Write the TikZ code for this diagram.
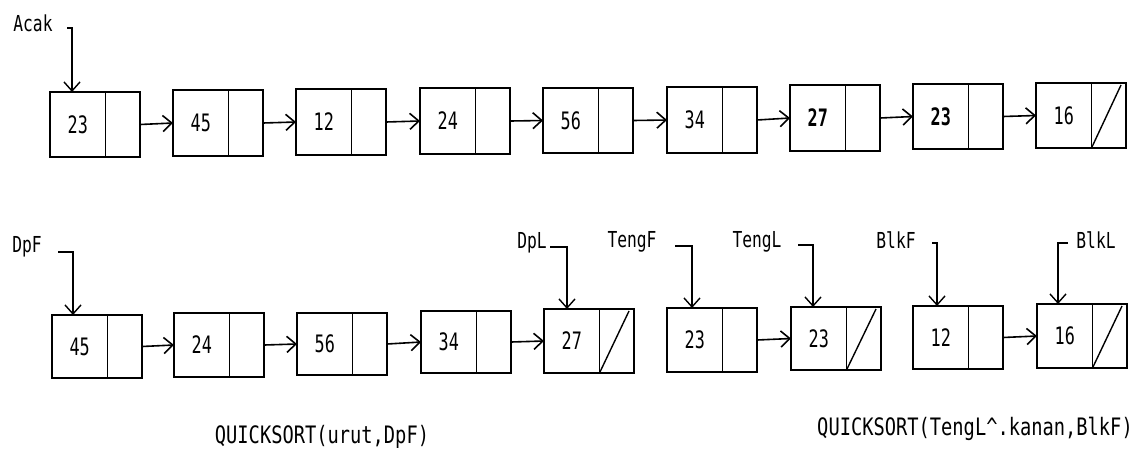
\documentclass[tikz,border=0pt]{standalone}
\usepackage{fontspec}
\newfontfamily\numfont[FakeStretch=0.7]{DejaVu Sans Mono}
\newfontfamily\lblfont[FakeStretch=0.74]{DejaVu Sans Mono}
\newfontfamily\capfont[FakeStretch=0.78]{DejaVu Sans Mono}
\usetikzlibrary{arrows.meta}
\newcommand\mkcell[5]{% name, x, y, height, value
  \node[cellbox, minimum height=#4pt] (#1) at (#2,#3) {};
  \draw[cellline] ([xshift=55.5pt]#1.north west) -- ([xshift=55.5pt]#1.south west);
  \node[valtext] (#1v) at ([xshift=27.75pt]#1.west) {#5};
}
\newcommand\mknull[1]{%
  \draw[cellline] ([xshift=55.5pt]#1.south west) -- ([xshift=-5pt,yshift=-2pt]#1.north east);
}
\begin{document}
\begin{tikzpicture}[x=1pt,y=-1pt,
  cellbox/.style={draw, line width=1.4pt, minimum width=90pt, inner sep=0pt, outer sep=0pt, anchor=north west},
  cellline/.style={line width=1.4pt},
  valtext/.style={font=\numfont\fontsize{24}{24}\selectfont, inner sep=0pt},
  lbl/.style={font=\lblfont\fontsize{22}{22}\selectfont, inner sep=0pt},
  captext/.style={font=\capfont\fontsize{24}{24}\selectfont, inner sep=0pt},
  link/.style={line width=1.6pt, -{Straight Barb[length=9pt,width=16pt,line width=1.6pt]}},
  ptr/.style={line width=1.4pt, -{Straight Barb[length=9pt,width=16pt,line width=1.4pt]}}
]
\useasboundingbox (0,0) rectangle (1137,451);
% top row
\mkcell{a1}{50}{92}{65}{23}
\mkcell{a2}{173}{90}{66}{45}
\mkcell{a3}{296}{89}{66}{12}
\mkcell{a4}{420}{88}{66}{24}
\mkcell{a5}{543}{88}{65}{56}
\mkcell{a6}{667}{87}{66}{34}
\mkcell{a7}{790}{85}{66}{\textbf{27}}
\mkcell{a8}{913}{84}{65}{\textbf{23}}
\mkcell{a9}{1036}{83}{65}{16}
\mknull{a9}
\foreach \i/\j in {a1/a2,a2/a3,a3/a4,a4/a5,a5/a6,a6/a7,a7/a8,a8/a9}
  \draw[link] (\i.east) -- (\j.west);
% bottom row
\mkcell{b1}{52}{315}{63}{45}
\mkcell{b2}{174}{313}{64}{24}
\mkcell{b3}{297}{313}{62}{56}
\mkcell{b4}{421}{311}{62}{34}
\mkcell{b5}{544}{309}{64}{27}
\mkcell{b6}{667}{308}{64}{23}
\mkcell{b7}{791}{307}{63}{23}
\mkcell{b8}{913}{306}{63}{12}
\mkcell{b9}{1037}{304}{64}{16}
\mknull{b5}
\mknull{b7}
\mknull{b9}
\foreach \i/\j in {b1/b2,b2/b3,b3/b4,b4/b5,b6/b7,b8/b9}
  \draw[link] (\i.east) -- (\j.west);
% pointer labels
\node[lbl] (lAcak) at (33,23) {Acak};
\coordinate (cAcak) at (67,28);
\draw[ptr] (cAcak) -| ([xshift=22pt]a1.north west);
\node[lbl] (lDpF) at (27,247) {DpF};
\coordinate (cDpF) at (58,252);
\draw[ptr] (cDpF) -| ([xshift=21pt]b1.north west);
\node[lbl] (lDpL) at (532,243) {DpL};
\coordinate (cDpL) at (550,247);
\draw[ptr] (cDpL) -| ([xshift=23pt]b5.north west);
\node[lbl] (lTengF) at (632,242) {TengF};
\coordinate (cTengF) at (675,246);
\draw[ptr] (cTengF) -| ([xshift=25pt]b6.north west);
\node[lbl] (lTengL) at (757,242) {TengL};
\coordinate (cTengL) at (798,245);
\draw[ptr] (cTengL) -| ([xshift=22pt]b7.north west);
\node[lbl] (lBlkF) at (896,240) {BlkF};
\coordinate (cBlkF) at (932,243);
\draw[ptr] (cBlkF) -| ([xshift=24pt]b8.north west);
\node[lbl] (lBlkL) at (1096,240) {BlkL};
\coordinate (cBlkL) at (1068,243);
\draw[ptr] (cBlkL) -| ([xshift=21pt]b9.north west);
% captions
\node[captext] (cap1) at (322,437) {QUICKSORT(urut,DpF)};
\node[captext, anchor=east] (cap2) at (1133,429) {QUICKSORT(TengL\^{}.kanan,BlkF)};
\end{tikzpicture}
\end{document}
